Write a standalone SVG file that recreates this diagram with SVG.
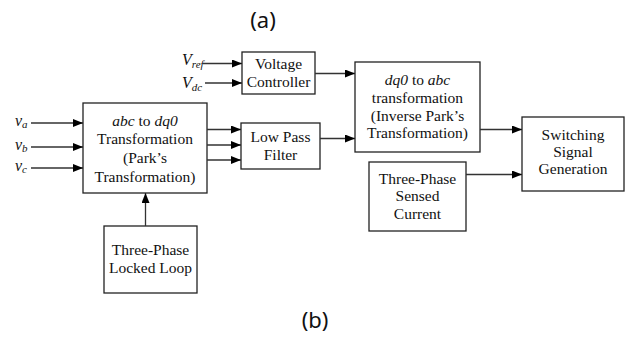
<svg xmlns="http://www.w3.org/2000/svg" width="628" height="340" viewBox="0 0 628 340">
<defs>
<marker id="ah" viewBox="0 0 10 8" refX="10" refY="4" markerWidth="10" markerHeight="8" markerUnits="userSpaceOnUse" orient="auto">
<path d="M0,0 L10,4 L0,8 Z" fill="#000"/>
</marker>
</defs>
<style>
.box{fill:#fff;stroke:#222;stroke-width:1.3}
.t{font-family:'Liberation Serif','Times New Roman',Tinos,'Nimbus Roman','DejaVu Serif',serif;font-size:15.5px;fill:#111;text-anchor:middle}
.i{font-style:italic}
.lbl{font-family:'Liberation Serif','Times New Roman',Tinos,'Nimbus Roman','DejaVu Serif',serif;font-size:16px;font-style:italic;fill:#111}
.sub{font-size:11px}
.cap{font-family:'Noto Sans','Open Sans',sans-serif;font-size:22px;fill:#111;text-anchor:middle}
.c{stroke:#333;stroke-width:1.3;fill:none;marker-end:url(#ah)}
</style>
<rect width="628" height="340" fill="#fff"/>
<text class="cap" x="263" y="28">(a)</text>
<text class="cap" x="315" y="328">(b)</text>

<g id="labels">
<text class="lbl" x="182" y="65">V<tspan class="sub" dy="3">ref</tspan></text>
<text class="lbl" x="182" y="88">V<tspan class="sub" dy="3">dc</tspan></text>
<text class="lbl" x="15" y="126" font-size="15">v<tspan class="sub" dy="2">a</tspan></text>
<text class="lbl" x="15" y="150" font-size="15">v<tspan class="sub" dy="2">b</tspan></text>
<text class="lbl" x="15" y="171" font-size="15">v<tspan class="sub" dy="2">c</tspan></text>
</g>

<g id="abc2dq0">
<rect class="box" x="83" y="103" width="124" height="90"/>
<text class="t" x="145" y="126"><tspan class="i">abc</tspan> to <tspan class="i">dq0</tspan></text>
<text class="t" x="145" y="144">Transformation</text>
<text class="t" x="145" y="163">(Park’s</text>
<text class="t" x="145" y="182">Transformation)</text>
</g>

<g id="voltage-controller">
<rect class="box" x="242" y="52" width="73" height="42"/>
<text class="t" x="278.5" y="69">Voltage</text>
<text class="t" x="278.5" y="87">Controller</text>
</g>

<g id="low-pass-filter">
<rect class="box" x="241" y="123" width="79" height="46"/>
<text class="t" x="280.5" y="142">Low Pass</text>
<text class="t" x="280.5" y="160">Filter</text>
</g>

<g id="dq02abc">
<rect class="box" x="355" y="62" width="125" height="90"/>
<text class="t" x="417.5" y="85"><tspan class="i">dq0</tspan>  to <tspan class="i">abc</tspan></text>
<text class="t" x="417.5" y="103">transformation</text>
<text class="t" x="417.5" y="121">(Inverse Park’s</text>
<text class="t" x="417.5" y="138">Transformation)</text>
</g>

<g id="switching">
<rect class="box" x="522" y="117" width="102" height="74"/>
<text class="t" x="573" y="140">Switching</text>
<text class="t" x="573" y="157">Signal</text>
<text class="t" x="573" y="174">Generation</text>
</g>

<g id="sensed-current">
<rect class="box" x="369" y="162" width="97" height="69"/>
<text class="t" x="417.5" y="184">Three-Phase</text>
<text class="t" x="417.5" y="201">Sensed</text>
<text class="t" x="417.5" y="219">Current</text>
</g>

<g id="pll">
<rect class="box" x="104" y="226" width="93" height="67"/>
<text class="t" x="150.5" y="255">Three-Phase</text>
<text class="t" x="150.5" y="273">Locked Loop</text>
</g>

<g id="connectors">
<path class="c" d="M203,63.5 H242"/>
<path class="c" d="M205,83 H242"/>
<path class="c" d="M31,123 H83"/>
<path class="c" d="M31,147 H83"/>
<path class="c" d="M31,168 H83"/>
<path class="c" d="M207,129.5 H241"/>
<path class="c" d="M207,145 H241"/>
<path class="c" d="M207,160 H241"/>
<path class="c" d="M315,73.5 H355"/>
<path class="c" d="M320,138.5 H355"/>
<path class="c" d="M480,129.5 H522"/>
<path class="c" d="M466,174.5 H522"/>
<path class="c" d="M145.5,226 V193"/>
</g>
</svg>
